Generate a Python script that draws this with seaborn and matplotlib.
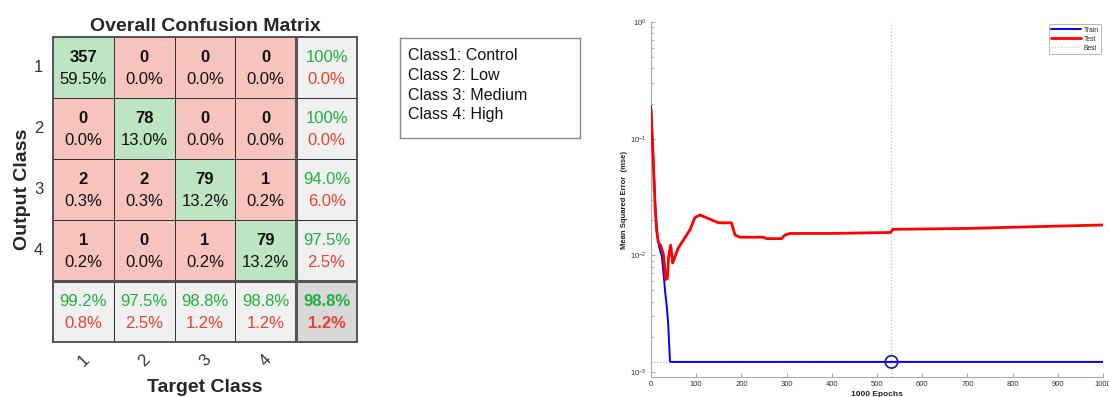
import numpy as np
import pandas as pd
import matplotlib
matplotlib.use("Agg")
import matplotlib.pyplot as plt
import seaborn as sns
from matplotlib.colors import ListedColormap

# ---------------- data ----------------
classes = ["1", "2", "3", "4"]
counts = [[357, 0, 0, 0],
          [0, 78, 0, 0],
          [2, 2, 79, 1],
          [1, 0, 1, 79]]
cell_pct = [[59.5, 0.0, 0.0, 0.0],
            [0.0, 13.0, 0.0, 0.0],
            [0.3, 0.3, 13.2, 0.2],
            [0.2, 0.0, 0.2, 13.2]]
row_correct = [100.0, 100.0, 94.0, 97.5]
row_wrong = [0.0, 0.0, 6.0, 2.5]
col_correct = [99.2, 97.5, 98.8, 98.8]
col_wrong = [0.8, 2.5, 1.2, 1.2]
overall_correct = 98.8
overall_wrong = 1.2

class_names = ["Class1: Control", "Class 2: Low", "Class 3: Medium", "Class 4: High"]

train_epochs = [0, 9, 12.5, 18, 24, 29, 31, 35, 38, 42, 45, 100, 200, 300, 400, 500,
                600, 700, 800, 900, 1000]
train_mse = [0.19, 0.030, 0.0165, 0.0118, 0.0098, 0.0062, 0.0050, 0.0036, 0.0026,
             0.00123, 0.00122, 0.00122, 0.00122, 0.00122, 0.00122, 0.00122,
             0.00122, 0.00122, 0.00122, 0.00122, 0.00122]

test_epochs = [0, 5, 9, 12.5, 16, 21, 27, 29.5, 32, 36, 39, 43.5, 48, 52, 60, 71.5,
               86, 97, 108, 123, 149, 178, 186, 197, 248, 256, 289, 296, 307, 400,
               530, 535, 700, 800, 900, 1000]
test_mse = [0.18, 0.065, 0.026, 0.0165, 0.013, 0.0122, 0.0104, 0.0086, 0.0062, 0.0063,
            0.0098, 0.0122, 0.0086, 0.0095, 0.0115, 0.0135, 0.0165, 0.021, 0.0222,
            0.021, 0.019, 0.019, 0.0149, 0.0143, 0.0143, 0.0139, 0.0139, 0.0149,
            0.0154, 0.0154, 0.0157, 0.0167, 0.0170, 0.0174, 0.0178, 0.0182]

best_epoch = 532
best_mse = 0.00122

# ---------------- style ----------------
sns.set_style("white")
plt.rcParams["font.family"] = ["Liberation Sans", "DejaVu Sans"]

W, H = 1109, 397
fig = plt.figure(figsize=(W / 100, H / 100), dpi=100)

def fr(x0, y0, x1, y1):
    return [x0 / W, 1 - y1 / H, (x1 - x0) / W, (y1 - y0) / H]

GREEN_BG = "#bde5c2"
RED_BG = "#f6c4bd"
GRAY_BG = "#f0f0f0"
DGRAY_BG = "#d8d8d8"
GREEN_TX = "#22b03a"
RED_TX = "#e8412c"

def pfmt(v):
    return "100%" if v >= 100 else f"{v:.1f}%"

# ---------------- confusion matrix ----------------
n = len(classes)
cat = np.zeros((n + 1, n + 1))
for i in range(n + 1):
    for j in range(n + 1):
        if i == n and j == n:
            cat[i, j] = 3
        elif i == n or j == n:
            cat[i, j] = 2
        elif i == j:
            cat[i, j] = 0
        else:
            cat[i, j] = 1
cmap = ListedColormap([GREEN_BG, RED_BG, GRAY_BG, DGRAY_BG])

ax1 = fig.add_axes(fr(53, 37, 357, 342))
sns.heatmap(pd.DataFrame(cat), ax=ax1, cmap=cmap, vmin=-0.5, vmax=3.5, cbar=False,
            linewidths=0.7, linecolor="#333333", square=False,
            xticklabels=classes + [""], yticklabels=classes + [""])

FS = 12
for i in range(n):
    for j in range(n):
        ax1.text(j + 0.5, i + 0.34, str(counts[i][j]), ha="center", va="center",
                 fontsize=FS, fontweight="bold", color="#111")
        ax1.text(j + 0.5, i + 0.69, pfmt(cell_pct[i][j]), ha="center", va="center",
                 fontsize=FS, color="#111")
    ax1.text(n + 0.5, i + 0.34, pfmt(row_correct[i]), ha="center", va="center",
             fontsize=FS, color=GREEN_TX)
    ax1.text(n + 0.5, i + 0.69, pfmt(row_wrong[i]), ha="center", va="center",
             fontsize=FS, color=RED_TX)
for j in range(n):
    ax1.text(j + 0.5, n + 0.34, pfmt(col_correct[j]), ha="center", va="center",
             fontsize=FS, color=GREEN_TX)
    ax1.text(j + 0.5, n + 0.69, pfmt(col_wrong[j]), ha="center", va="center",
             fontsize=FS, color=RED_TX)
ax1.text(n + 0.5, n + 0.34, pfmt(overall_correct), ha="center", va="center",
         fontsize=FS, fontweight="bold", color=GREEN_TX)
ax1.text(n + 0.5, n + 0.69, pfmt(overall_wrong), ha="center", va="center",
         fontsize=FS, fontweight="bold", color=RED_TX)

ax1.axvline(n, color="#555", lw=2.2)
ax1.axhline(n, color="#555", lw=2.2)
for s in ax1.spines.values():
    s.set_visible(True)
    s.set_color("#555")
    s.set_linewidth(1.4)

ax1.tick_params(axis="both", length=0, labelsize=12, labelcolor="#333")
ax1.tick_params(axis="y", pad=7)
ax1.set_yticklabels(classes + [""], rotation=0)
ax1.set_xticklabels(classes + [""], rotation=45, ha="center", va="top")
ax1.tick_params(axis="x", pad=7)
ax1.set_title("Overall Confusion Matrix", fontsize=14, fontweight="bold", pad=4)
ax1.set_xlabel("Target Class", fontsize=14, fontweight="bold", labelpad=7)
ax1.set_ylabel("Output Class", fontsize=14, fontweight="bold", labelpad=2)

# ---------------- class legend box ----------------
ax2 = fig.add_axes(fr(400, 38, 580, 138))
ax2.set_xticks([])
ax2.set_yticks([])
ax2.set_xlim(0, 1)
ax2.set_ylim(0, 1)
for s in ax2.spines.values():
    s.set_visible(True)
    s.set_color("#888")
    s.set_linewidth(1.0)
for k, name in enumerate(class_names):
    ax2.text(0.045, 0.83 - k * 0.2, name, ha="left", va="center", fontsize=11.5,
             color="#111", transform=ax2.transAxes)

# ---------------- performance plot ----------------
ax3 = fig.add_axes(fr(651, 22, 1103, 377))
ax3.hlines(best_mse, 0, best_epoch, colors="#7f9fe0", linestyles=":", lw=0.8, zorder=1)
ax3.axvline(best_epoch, color="#c0c0c0", ls=":", lw=0.9, zorder=1)
sns.lineplot(x=train_epochs, y=train_mse, ax=ax3, color="#0000ff", lw=1.4,
             label="Train", zorder=3)
sns.lineplot(x=test_epochs, y=test_mse, ax=ax3, color="#ff0000", lw=2.0,
             label="Test", zorder=4)
ax3.plot([], [], color="#c0c0c0", ls=":", lw=0.9, label="Best")
ax3.scatter([best_epoch], [best_mse], s=80, facecolors="none",
            edgecolors="#1a1aa8", linewidths=1.2, zorder=5)

ax3.set_yscale("log")
ax3.set_ylim(10 ** -3.043, 1.0)
ax3.set_xlim(0, 1000)
ax3.set_xticks(range(0, 1001, 100))
ax3.tick_params(axis="both", which="major", direction="in", length=3, width=0.6,
                color="#999", labelsize=5.5, labelcolor="#333", pad=3)
ax3.tick_params(axis="y", which="minor", direction="in", length=1.8, width=0.5,
                color="#999", left=True)
ax3.tick_params(axis="x", which="both", bottom=True)
ax3.tick_params(axis="y", which="both", left=True)
for side in ["top", "right"]:
    ax3.spines[side].set_visible(False)
for side in ["left", "bottom"]:
    ax3.spines[side].set_color("#aaa")
    ax3.spines[side].set_linewidth(0.8)
ax3.set_ylabel("Mean Squared Error  (mse)", fontsize=5.5, fontweight="bold",
               color="#222", labelpad=2)
ax3.set_xlabel("1000 Epochs", fontsize=6, fontweight="bold", color="#222", labelpad=2)
leg = ax3.legend(loc="upper right", fontsize=4.8, frameon=True, fancybox=False,
                 edgecolor="#999", handlelength=4.5, borderaxespad=0.3,
                 labelspacing=0.3, handletextpad=0.3, borderpad=0.4)
leg.get_frame().set_linewidth(0.6)

fig.savefig("out.png", dpi=100)
